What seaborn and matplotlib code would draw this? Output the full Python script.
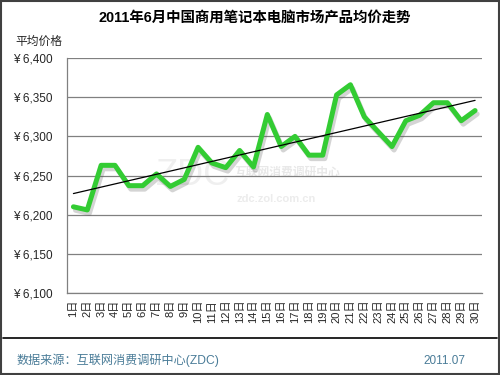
import matplotlib
matplotlib.use('Agg')
import matplotlib.pyplot as plt
import matplotlib.patheffects as pe
from matplotlib.lines import Line2D
from matplotlib.patches import Rectangle
import seaborn as sns
import numpy as np
import pandas as pd

sns.set_theme(style='white')
plt.rcParams['font.family'] = ['Liberation Sans', 'Noto Sans CJK SC', 'DejaVu Sans']

# ── data ──────────────────────────────────────────────────────────────────────
days = [f'{d}日' for d in range(1, 31)]
prices = [6210, 6206, 6263, 6263, 6237, 6237, 6252, 6236, 6245, 6286,
          6266, 6260, 6282, 6261, 6328, 6287, 6300, 6276, 6276, 6353,
          6366, 6325, 6306, 6287, 6320, 6327, 6343, 6343, 6320, 6333]
yticks = [6100, 6150, 6200, 6250, 6300, 6350, 6400]
ytick_labels = [f'¥ {v:,}' for v in yticks]

df = pd.DataFrame({'pos': np.arange(len(days)), 'price': prices})

fig = plt.figure(figsize=(5, 3.75), dpi=100)
ax = fig.add_axes([0.133, 0.219, 0.831, 0.626])

# faint watermark
ax.text(0.395, 0.50, 'ZDC', transform=ax.transAxes, fontsize=26, color='#efefef',
        ha='right', va='center', zorder=0)
ax.text(0.405, 0.51, '互联网消费调研中心', transform=ax.transAxes, fontsize=8.5,
        color='#e8e8e8', ha='left', va='center', fontweight='bold', zorder=0)
ax.text(0.41, 0.40, 'zdc.zol.com.cn', transform=ax.transAxes, fontsize=8,
        color='#ececec', ha='left', va='center', fontweight='bold', zorder=0)

sns.lineplot(data=df, x='pos', y='price', ax=ax, color='#33CC33', linewidth=3.6,
             zorder=3, path_effects=[pe.SimpleLineShadow(offset=(1.5, -2.5), alpha=0.25,
                                                        shadow_color='#555555'),
                                     pe.Normal()])

# linear trend line
coef = np.polyfit(df['pos'], df['price'], 1)
ax.plot(df['pos'], np.polyval(coef, df['pos']), color='black', linewidth=0.9, zorder=4)

ax.set_xlim(-0.5, len(days) - 0.5)
ax.set_ylim(6100, 6400)
ax.set_yticks(yticks)
ax.set_yticklabels(ytick_labels, fontsize=8.5)
ax.set_xticks(df['pos'])
ax.set_xticklabels(days, rotation=90, fontsize=8)
ax.set_xticks(np.arange(-0.5, len(days)), minor=True)
ax.tick_params(axis='x', which='major', length=0, pad=5)
ax.tick_params(axis='x', which='minor', length=3, color='#808080', direction='out')
ax.tick_params(axis='y', length=0, pad=10)
ax.set_xlabel('')
ax.set_ylabel('')
ax.yaxis.grid(True, color='#808080', linewidth=0.9)
ax.set_axisbelow(True)
for s in ['top', 'right']:
    ax.spines[s].set_visible(False)
for s in ['left', 'bottom']:
    ax.spines[s].set_color('#808080')
    ax.spines[s].set_linewidth(0.9)

fig.text(0.51, 0.952, '2011年6月中国商用笔记本电脑市场产品均价走势', ha='center', va='center',
         fontsize=10.4, fontweight='bold', color='black')
fig.text(0.03, 0.887, '平均价格', ha='left', va='center', fontsize=8.5)

# frame and footer
fig.patches.append(Rectangle((0.002, 0.003), 0.996, 0.994, transform=fig.transFigure,
                             fill=False, edgecolor='#404040', linewidth=1.5))
fig.lines.append(Line2D([0.006, 0.994], [0.099, 0.099], transform=fig.transFigure,
                        color='black', linewidth=1.2))
fig.text(0.034, 0.038, '数据来源：互联网消费调研中心(ZDC)', ha='left', va='center',
         fontsize=8.7, color='#4A7C98')
fig.text(0.93, 0.038, '2011.07', ha='right', va='center', fontsize=8.5, color='#4A7C98')

plt.savefig('out.png', dpi=100)
plt.close()
